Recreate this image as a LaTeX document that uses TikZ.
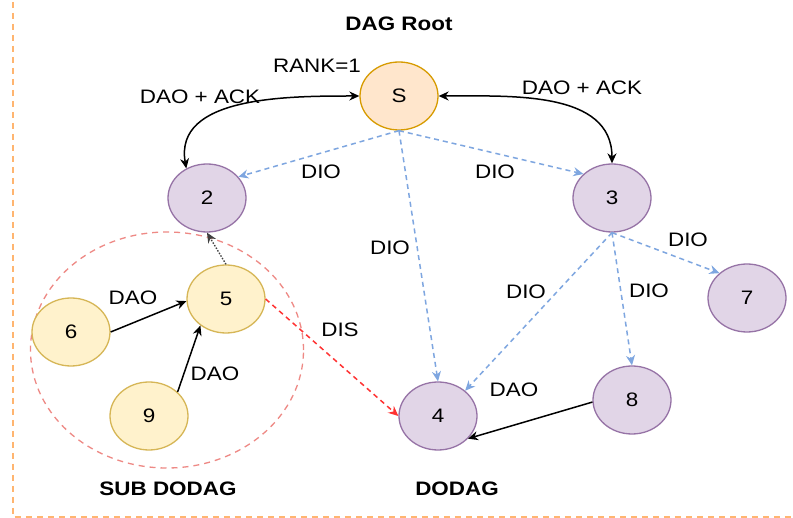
\documentclass[tikz,border=0pt]{standalone}
\usepackage{fontspec}
\setmainfont{Liberation Sans}[FakeStretch=1.15]
\usetikzlibrary{shapes.geometric,arrows.meta}

\definecolor{rootfill}{HTML}{FFE6CC}
\definecolor{rootline}{HTML}{D79B00}
\definecolor{dagfill}{HTML}{E1D5E7}
\definecolor{dagline}{HTML}{9673A6}
\definecolor{subfill}{HTML}{FFF2CC}
\definecolor{subline}{HTML}{D6B656}
\definecolor{dioblue}{HTML}{7EA6E0}
\definecolor{disred}{HTML}{FF3333}
\definecolor{ringred}{HTML}{EA6B66}
\definecolor{frameorange}{HTML}{FFB570}

\tikzset{
	rank/.style={ellipse, line width=1.3pt, minimum width=78pt, minimum height=68pt, inner sep=0pt},
	rootnode/.style={rank, draw=rootline, fill=rootfill},
	dagnode/.style={rank, draw=dagline, fill=dagfill},
	subnode/.style={rank, draw=subline, fill=subfill},
	lbl/.style={inner sep=1pt},
	title/.style={inner sep=1pt, font=\fontsize{19.5}{21}\selectfont\bfseries},
	ctrl/.style={line width=1.5pt, black},
	dio/.style={line width=1.5pt, dioblue, dash pattern=on 5pt off 4pt},
	dis/.style={line width=1.5pt, disred, dash pattern=on 5pt off 4pt},
	hop/.style={line width=1.3pt, black!75, dash pattern=on 1.5pt off 1.5pt},
	ring/.style={ellipse, draw=ringred!80, line width=1.3pt, dash pattern=on 6pt off 5pt,
		minimum width=273pt, minimum height=236pt},
	frame/.style={draw=frameorange, line width=1.8pt, dash pattern=on 6pt off 5pt}
}

\begin{document}
\begin{tikzpicture}[x=1pt, y=-1pt, font=\fontsize{19.5}{21}\selectfont,
	>={Stealth[length=10pt,width=9pt]}]
	\useasboundingbox[fill=white] (0,0) rectangle (793,518);
	\clip (0,0) rectangle (793,518);
	\draw[frame] (13,-20) rectangle (820,517);

	% sub dodag ring
	\node[ring] (sub) at (167,350) {};

	% nodes
	\node[rootnode] (S) at (399,96) {S};
	\node[dagnode] (n2) at (207,198) {2};
	\node[dagnode] (n3) at (612,198) {3};
	\node[dagnode] (n7) at (747,298) {7};
	\node[dagnode] (n8) at (632,400) {8};
	\node[dagnode] (n4) at (438,416) {4};
	\node[subnode] (n5) at (226,299) {5};
	\node[subnode] (n6) at (71,332) {6};
	\node[subnode] (n9) at (149,416) {9};

	% titles
	\node[title] (root) at (399,24) {DAG Root};
	\node[title] (subdodag) at (168,489) {SUB DODAG};
	\node[title] (dodag) at (457,489) {DODAG};

	% labels
	\node[lbl] (l-rank) at (317,66) {RANK=1};
	\node[lbl] (l-ack2) at (200,97) {DAO + ACK};
	\node[lbl] (l-ack3) at (582,88) {DAO + ACK};
	\node[lbl] (l-dio2) at (321,172) {DIO};
	\node[lbl] (l-dio3) at (495,172) {DIO};
	\node[lbl] (l-dio4) at (390,248) {DIO};
	\node[lbl] (l-dio7) at (688,240) {DIO};
	\node[lbl] (l-dio34) at (526,292) {DIO};
	\node[lbl] (l-dio8) at (649,291) {DIO};
	\node[lbl] (l-dao8) at (514,390) {DAO};
	\node[lbl] (l-dis) at (340,330) {DIS};
	\node[lbl] (l-dao6) at (133,298) {DAO};
	\node[lbl] (l-dao9) at (215,374) {DAO};

	% dao + ack
	\draw[ctrl,<->] (S.west) to[out=180, in=100] (n2.125);
	\draw[ctrl,<->] (S.east) to[out=0, in=90] (n3.north);

	% dio
	\draw[dio,->] (S.south) -- (n2.34);
	\draw[dio,->] (S.south) -- (n3.140);
	\draw[dio,->] (S.south) -- (n4.north);
	\draw[dio,->] (n3.south) -- (n4.43);
	\draw[dio,->] (n3.south) -- (n8.north);
	\draw[dio,->] (n3.south) -- (n7.138);

	% dao
	\draw[ctrl,->] (n8.183) -- (n4.-37);
	\draw[ctrl,->] (n6.east) -- (n5.183);
	\draw[ctrl,->] (n9.40) -- (n5.226);
	\draw[hop,->] (n5.north) -- (n2.south);

	% dis
	\draw[dis,->] (n5.east) -- (n4.west);
\end{tikzpicture}
\end{document}
